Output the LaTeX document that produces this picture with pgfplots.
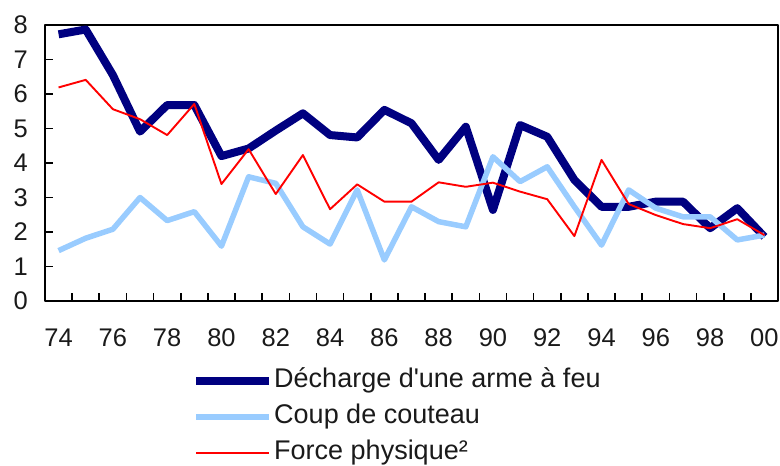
\documentclass[border=0pt]{standalone}
\usepackage{pgfplots}
\pgfplotsset{compat=1.18}
\usepackage{fontspec}
\setmainfont{Liberation Sans}
\definecolor{navyc}{HTML}{000080}
\definecolor{lblue}{HTML}{99CCFF}
\definecolor{redc}{HTML}{FF0000}
\definecolor{txt}{HTML}{1A1A1A}
\begin{document}
\fontsize{25}{30}\selectfont
\begin{tikzpicture}
\begin{axis}[
  name=ax,
  scale only axis,
  width=733pt, height=276pt,
  xmin=73.5, xmax=100.5,
  ymin=0, ymax=8,
  axis line style={line width=1.8pt, black},
  xtick={74,76,...,100},
  xticklabels={74,76,78,80,82,84,86,88,90,92,94,96,98,00},
  major x tick style={draw=none},
  minor xtick={74.5,75.5,...,99.6},
  minor tick length=8pt,
  minor x tick style={line width=1.6pt, black},
  ytick={0,1,...,8},
  major tick length=8pt,
  major y tick style={line width=1.6pt, black},
  tick align=inside,
  xtick pos=bottom, ytick pos=left,
  /pgf/number format/assume math mode=true,
  xticklabel style={inner sep=0pt, anchor=north, yshift=-28pt, text=txt, font=\fontsize{25.5}{30}\selectfont},
  yticklabel style={inner sep=0pt, anchor=east, xshift=-17pt, text=txt, font=\fontsize{25.5}{30}\selectfont},
  legend style={at={(rel axis cs:0.1965,-0.238)}, anchor=north west, draw=none, fill=none,
    font=\fontsize{27}{30}\selectfont, text=txt,
    nodes={inner sep=0pt, text height=19pt, text depth=5pt},
    row sep=12pt, column sep=1pt},
  legend cell align=left,
  legend image code/.code={\draw[#1] (0pt,0pt) -- (73pt,0pt);},
  line join=round,
]
\addplot[navyc, line width=8pt, line cap=butt] coordinates {
(74,7.73)(75,7.87)(76,6.55)(77,4.91)(78,5.68)(79,5.68)(80,4.20)(81,4.42)(82,4.94)(83,5.44)
(84,4.81)(85,4.74)(86,5.54)(87,5.15)(88,4.09)(89,5.05)(90,2.64)(91,5.10)(92,4.76)(93,3.51)
(94,2.73)(95,2.73)(96,2.88)(97,2.88)(98,2.11)(99,2.69)(100,1.86)};
\addlegendentry{Décharge d\textquotesingle une arme à feu}
\addplot[lblue, line width=5.5pt] coordinates {
(74,1.46)(75,1.82)(76,2.08)(77,3.00)(78,2.33)(79,2.59)(80,1.59)(81,3.60)(82,3.41)(83,2.15)
(84,1.65)(85,3.22)(86,1.19)(87,2.73)(88,2.30)(89,2.15)(90,4.18)(91,3.46)(92,3.89)(93,2.73)
(94,1.62)(95,3.22)(96,2.69)(97,2.44)(98,2.44)(99,1.77)(100,1.91)};
\addlegendentry{Coup de couteau}
\addplot[redc, line width=1.9pt] coordinates {
(74,6.19)(75,6.41)(76,5.56)(77,5.27)(78,4.81)(79,5.71)(80,3.39)(81,4.40)(82,3.10)(83,4.23)
(84,2.66)(85,3.38)(86,2.88)(87,2.88)(88,3.44)(89,3.31)(90,3.43)(91,3.17)(92,2.95)(93,1.88)
(94,4.09)(95,2.81)(96,2.49)(97,2.23)(98,2.11)(99,2.37)(100,1.91)};
\addlegendentry{Force physique²}
\end{axis}
\pgfresetboundingbox
\path[use as bounding box] ([shift={(-45pt,-165pt)}]ax.south west) rectangle ([shift={(2pt,25pt)}]ax.north east);
\end{tikzpicture}
\end{document}
